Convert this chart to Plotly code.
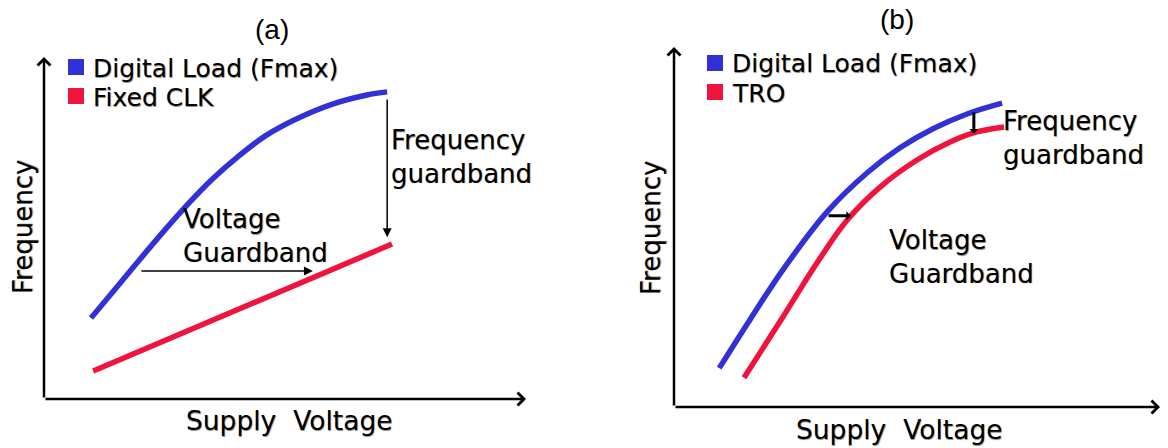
import plotly.graph_objects as go

W, H = 1168, 448

# ---- panel (a): digital load Fmax vs a fixed clock (normalised units 0-100)
a_load_v = [9.75, 15, 20, 25, 30, 35, 40, 46, 53, 60, 67, 71.2]
a_load_f = [23.7, 32.5, 41.0, 49.3, 57.2, 64.4, 70.6, 77.0, 82.3, 86.3, 88.9, 89.8]
a_clk_v = [10.2, 72.2]
a_clk_f = [8.2, 45.3]

# ---- panel (b): digital load Fmax vs tunable ring oscillator
b_load_v = [9.3, 15.6, 22.4, 31.5, 39.7, 46.5, 53.3, 60.3, 67.5]
b_load_f = [10.8, 24.2, 38.1, 54.2, 65.0, 72.0, 77.3, 81.4, 84.4]
b_tro_v = [14.4, 22.4, 29.4, 35.6, 42.4, 50.0, 56.8, 62.3, 67.9]
b_tro_f = [8.1, 25.0, 40.0, 51.9, 61.1, 68.6, 73.6, 76.4, 77.8]

legend_a = ["Digital Load (Fmax)", "Fixed CLK"]
legend_b = ["Digital Load (Fmax)", "TRO"]

BLUE = "#3131D6"
RED = "#F0143C"
FONT = "DejaVu Sans"
SHADOW = "0.6px 0.6px 0.8px rgba(0,0,0,0.45)"


def px_x(p):
    return p / W


def px_y(p):
    return 1 - p / H


fig = go.Figure()

fig.add_trace(go.Scatter(x=a_load_v, y=a_load_f, mode="lines", line=dict(color=BLUE, width=5.5, shape="spline"),
                         xaxis="x", yaxis="y", showlegend=False, hoverinfo="skip"))
fig.add_trace(go.Scatter(x=a_clk_v, y=a_clk_f, mode="lines", line=dict(color=RED, width=5.5),
                         xaxis="x", yaxis="y", showlegend=False, hoverinfo="skip"))
fig.add_trace(go.Scatter(x=b_load_v, y=b_load_f, mode="lines", line=dict(color=BLUE, width=5.5, shape="spline"),
                         xaxis="x2", yaxis="y2", showlegend=False, hoverinfo="skip"))
fig.add_trace(go.Scatter(x=b_tro_v, y=b_tro_f, mode="lines", line=dict(color=RED, width=5.5, shape="spline"),
                         xaxis="x2", yaxis="y2", showlegend=False, hoverinfo="skip"))

ax_common = dict(range=[0, 100], visible=False, showgrid=False, zeroline=False, fixedrange=True)
fig.update_layout(
    width=W, height=H,
    margin=dict(l=0, r=0, t=0, b=0),
    paper_bgcolor="white", plot_bgcolor="white",
    xaxis=dict(domain=[px_x(44), px_x(526)], anchor="y", **ax_common),
    yaxis=dict(domain=[px_y(399), px_y(57)], anchor="x", **ax_common),
    xaxis2=dict(domain=[px_x(674), px_x(1160)], anchor="y2", **ax_common),
    yaxis2=dict(domain=[px_y(407), px_y(47)], anchor="x2", **ax_common),
)

ann = []


def arrow(xr, yr, x0, y0, x1, y1, width, head, size):
    ann.append(dict(x=x1, y=y1, ax=x0, ay=y0, xref=xr, yref=yr, axref=xr, ayref=yr,
                    text="", showarrow=True, arrowhead=head, arrowsize=size,
                    arrowwidth=width, arrowcolor="black", standoff=0, startstandoff=0))


def text(x, y, s, size, xanchor="left", angle=0, family=FONT, shadow=SHADOW):
    ann.append(dict(x=x, y=y, xref="paper", yref="paper", text=s, showarrow=False, xanchor=xanchor,
                    yanchor="middle", textangle=angle, align="left",
                    font=dict(family=family, size=size, color="black", shadow=shadow)))


# axes with open arrowheads
for xr, yr in (("x", "y"), ("x2", "y2")):
    arrow(xr, yr, 0, 0, 100, 0, 2.5, 4, 1)
    arrow(xr, yr, 0, 0, 0, 100, 2.5, 4, 1)

# guardband arrows, panel (a)
arrow("x", "y", a_load_v[-1], 88, a_load_v[-1], 47.3, 1.5, 2, 1.2)
arrow("x", "y", 19.9, 37.4, 55.8, 37.4, 1.5, 2, 1.2)

# guardband arrows, panel (b)
arrow("x2", "y2", 31.5, 53.1, 36.4, 53.1, 3, 1, 0.5)
arrow("x2", "y2", 61.7, 82.2, 61.7, 76.0, 3, 1, 0.5)

# panel titles
text(px_x(272), px_y(29), "(a)", 28, xanchor="center", family="Liberation Sans", shadow="none")
text(px_x(897), px_y(19), "(b)", 28, xanchor="center", family="Liberation Sans", shadow="none")

# axis titles
text(px_x(23), px_y(227), "Frequency", 26, xanchor="center", angle=-90)
text(px_x(651), px_y(228), "Frequency", 26, xanchor="center", angle=-90)
text(px_x(289), px_y(420), "Supply\u00a0 Voltage", 26.5, xanchor="center")
text(px_x(899), px_y(429), "Supply\u00a0 Voltage", 26.5, xanchor="center")

# in-plot labels
text(px_x(389), px_y(157), "Frequency<br>guardband", 26)
text(px_x(181), px_y(236), "Voltage<br>Guardband", 26)
text(px_x(1001), px_y(138), "Frequency<br>guardband", 26)
text(px_x(887), px_y(257), "Voltage<br>Guardband", 26)

# legends: coloured squares with labels
shapes = []
for (sx, sy0, labels) in ((76, (67, 96), legend_a), (715, (63, 92), legend_b)):
    for cy, col, lab in zip(sy0, (BLUE, RED), labels):
        shapes.append(dict(type="rect", xref="paper", yref="paper",
                           x0=px_x(sx - 8), x1=px_x(sx + 8), y0=px_y(cy + 8), y1=px_y(cy - 8),
                           fillcolor=col, line=dict(width=0)))
        text(px_x(sx + 15), px_y(cy + 1), lab, 25)

fig.update_layout(annotations=ann, shapes=shapes)
fig.write_html("out.html")
